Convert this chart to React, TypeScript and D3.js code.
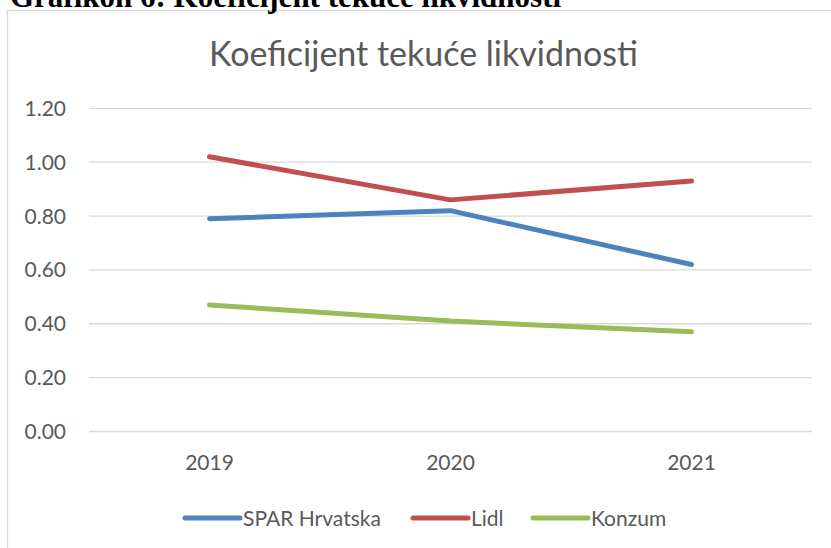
import React, { useEffect, useRef } from "react";
import * as d3 from "d3";

const years = ["2019", "2020", "2021"];
const sparValues = [0.79, 0.82, 0.62];
const lidlValues = [1.02, 0.86, 0.93];
const konzumValues = [0.47, 0.41, 0.37];
const seriesNames = ["SPAR Hrvatska", "Lidl", "Konzum"];
const yTicks = [0, 0.2, 0.4, 0.6, 0.8, 1.0, 1.2];

const colors = ["#4f81bd", "#c0504d", "#9bbb59"];
const font = "Lato, 'Open Sans', sans-serif";
const textColor = "#595959";

export default function App() {
  const ref = useRef<SVGSVGElement>(null);

  useEffect(() => {
    const svg = d3.select(ref.current);
    svg.selectAll("*").remove();

    const width = 831,
      height = 548;
    const plot = { left: 89, right: 812, top: 108.3, bottom: 431.5 };

    // frame of the chart object (runs past the right and bottom edges)
    svg
      .append("rect")
      .attr("x", 7.5)
      .attr("y", 10.5)
      .attr("width", 1000)
      .attr("height", 1000)
      .attr("fill", "#fff")
      .attr("stroke", "#d9d9d9")
      .attr("stroke-width", 1.3);

    // document caption, cut off by the top edge like in the scan
    svg
      .append("text")
      .attr("x", 10)
      .attr("y", 7)
      .attr("font-family", "'Liberation Serif', 'Times New Roman', serif")
      .attr("font-weight", "bold")
      .attr("font-size", 31)
      .attr("fill", "#000")
      .text("Grafikon 6: Koeficijent tekuće likvidnosti");

    svg
      .append("text")
      .attr("x", 423.5)
      .attr("y", 66)
      .attr("text-anchor", "middle")
      .attr("font-family", font)
      .attr("font-size", 34)
      .attr("fill", textColor)
      .text("Koeficijent tekuće likvidnosti");

    const x = d3
      .scaleBand()
      .domain(years)
      .range([plot.left, plot.right])
      .padding(0);
    const cx = (d: string) => (x(d) as number) + x.bandwidth() / 2;

    const y = d3
      .scaleLinear()
      .domain([0, 1.2])
      .range([plot.bottom, plot.top]);

    // gridlines
    svg
      .append("g")
      .selectAll("line")
      .data(yTicks)
      .enter()
      .append("line")
      .attr("x1", plot.left)
      .attr("x2", plot.right)
      .attr("y1", (d) => y(d))
      .attr("y2", (d) => y(d))
      .attr("stroke", "#d9d9d9")
      .attr("stroke-width", 1.3);

    // y tick labels
    svg
      .append("g")
      .selectAll("text")
      .data(yTicks)
      .enter()
      .append("text")
      .attr("x", 66)
      .attr("y", (d) => y(d))
      .attr("dy", "0.36em")
      .attr("text-anchor", "end")
      .attr("font-family", font)
      .attr("font-size", 21)
      .attr("fill", textColor)
      .text((d) => d3.format(".2f")(d));

    // x labels
    svg
      .append("g")
      .selectAll("text")
      .data(years)
      .enter()
      .append("text")
      .attr("x", (d) => cx(d))
      .attr("y", 470)
      .attr("text-anchor", "middle")
      .attr("font-family", font)
      .attr("font-size", 21)
      .attr("fill", textColor)
      .text((d) => d);

    const allSeries = [sparValues, lidlValues, konzumValues];
    const line = d3
      .line<number>()
      .x((_, i) => cx(years[i]))
      .y((d) => y(d));

    svg
      .append("g")
      .selectAll("path")
      .data(allSeries)
      .enter()
      .append("path")
      .attr("d", (d) => line(d))
      .attr("fill", "none")
      .attr("stroke", (_, i) => colors[i])
      .attr("stroke-width", 5)
      .attr("stroke-linecap", "round")
      .attr("stroke-linejoin", "round");

    // legend
    const legendX = [185, 413, 533];
    const legendY = 518;
    const legend = svg
      .append("g")
      .selectAll("g")
      .data(seriesNames)
      .enter()
      .append("g")
      .attr("transform", (_, i) => "translate(" + legendX[i] + "," + legendY + ")");
    legend
      .append("line")
      .attr("x1", 0)
      .attr("x2", 55)
      .attr("stroke", (_, i) => colors[i])
      .attr("stroke-width", 5)
      .attr("stroke-linecap", "round");
    legend
      .append("text")
      .attr("x", 58)
      .attr("dy", "0.36em")
      .attr("font-family", font)
      .attr("font-size", 21)
      .attr("fill", textColor)
      .text((d) => d);

    svg.attr("width", width).attr("height", height);
  }, []);

  return (
    <svg
      ref={ref}
      width={831}
      height={548}
      style={{ position: "absolute", left: 0, top: 0, background: "#fff" }}
    />
  );
}
